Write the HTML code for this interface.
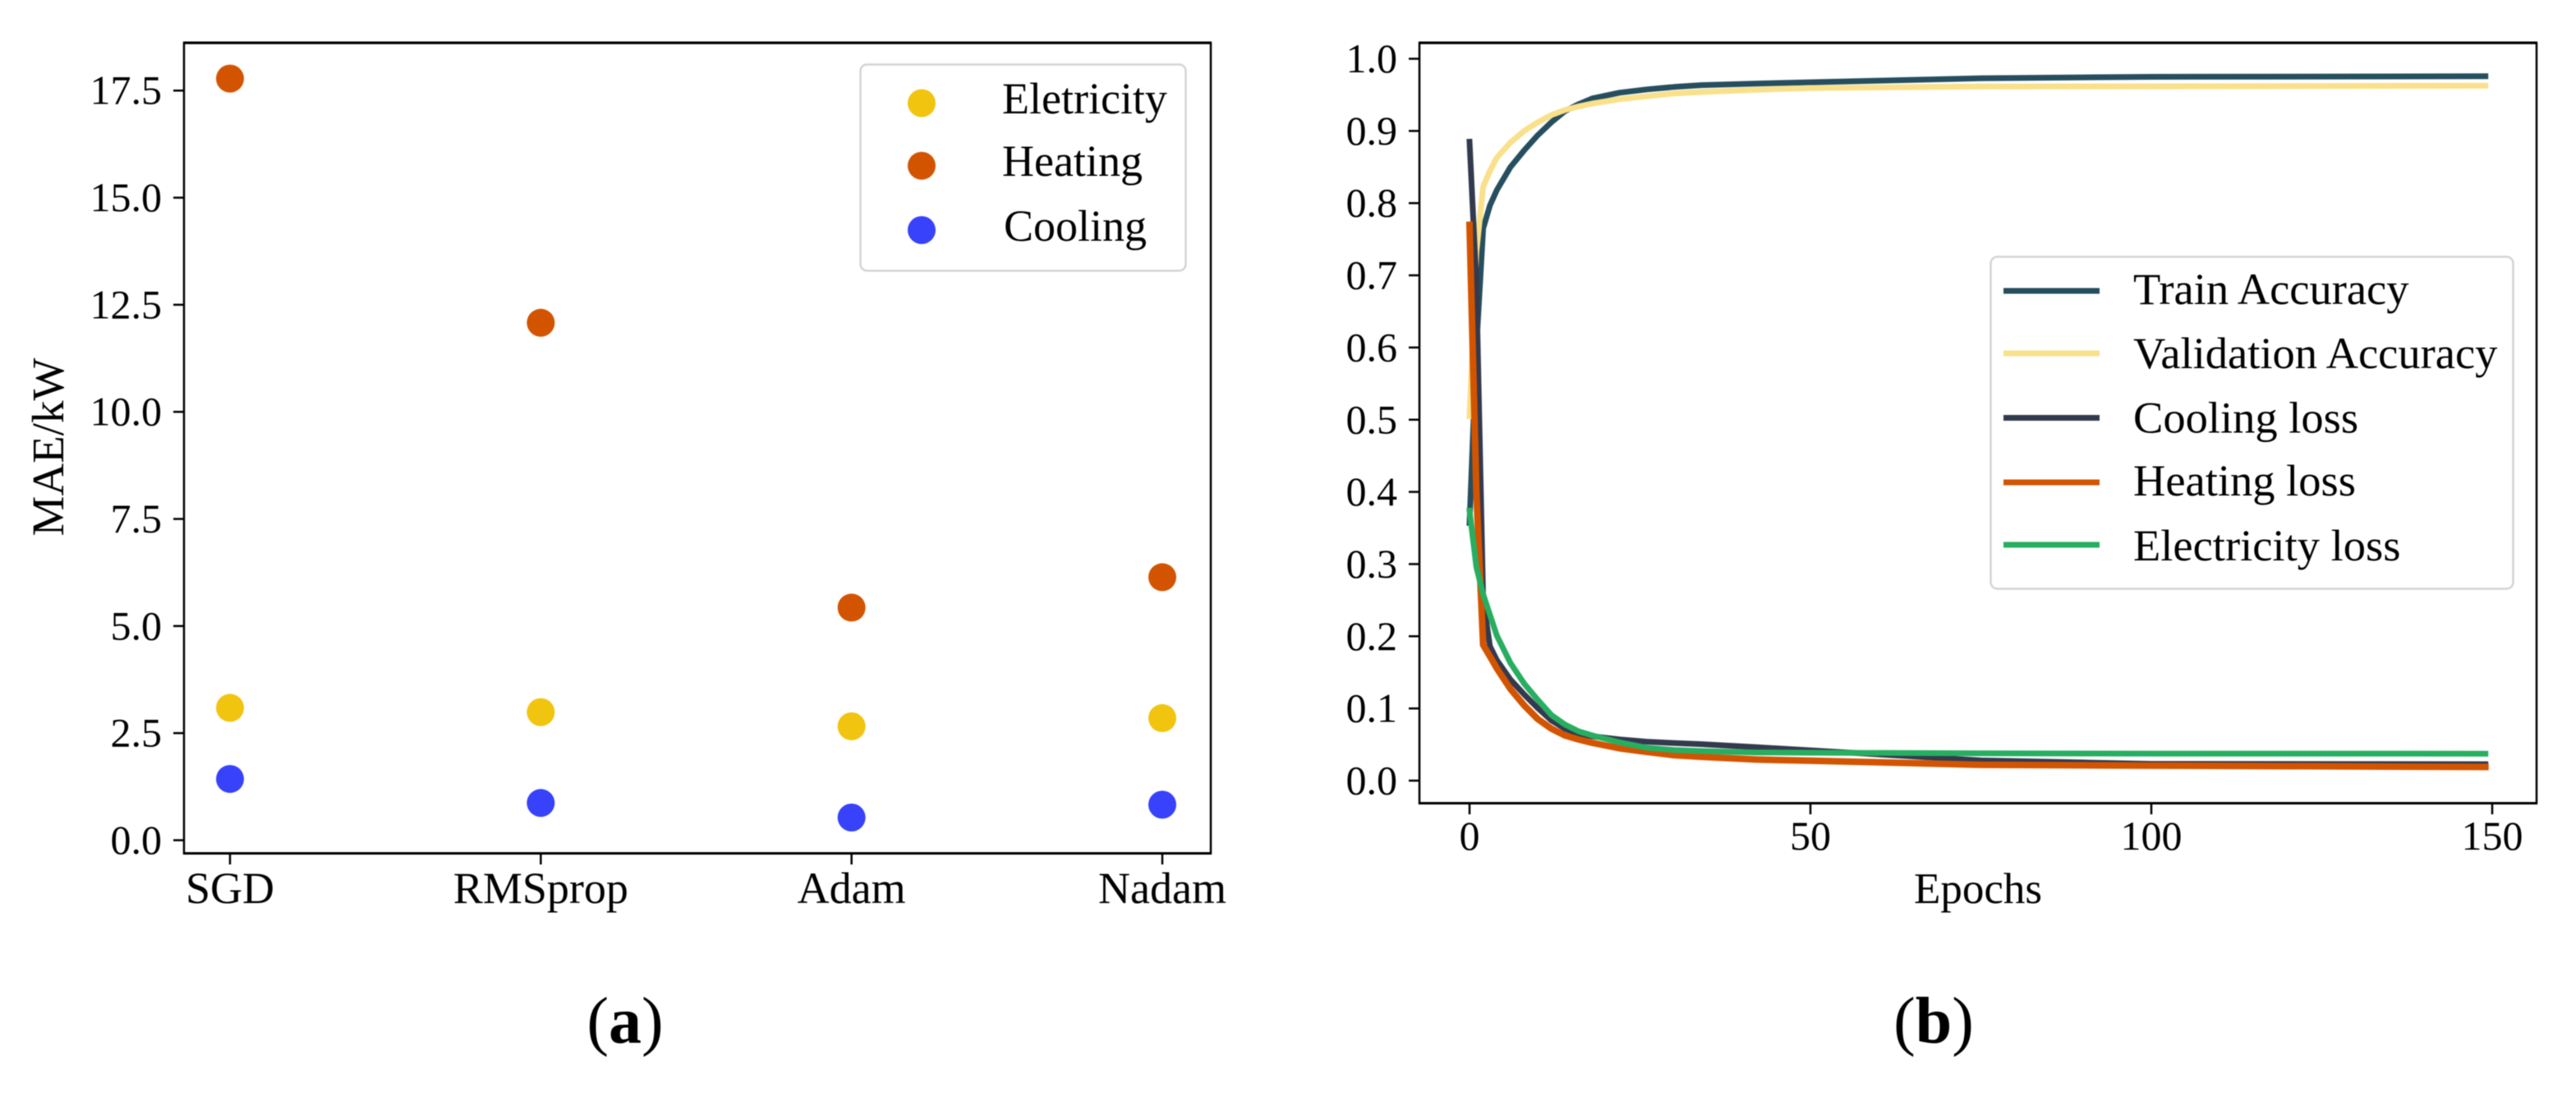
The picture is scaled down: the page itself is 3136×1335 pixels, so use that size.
<!DOCTYPE html>
<html lang="en">
<head>
<meta charset="utf-8">
<title>MAE by optimizer and training curves</title>
<style>
html,body{margin:0;padding:0;background:#fff;width:3136px;height:1335px;overflow:hidden}
svg{display:block;filter:blur(.6px)}
text{font-family:"Liberation Serif",serif;fill:#000}
.tick{font-size:50px}
.xcat{font-size:54px}
.lega{font-size:54px}
.legb{font-size:54.5px}
.ax{font-size:53px}
.ay{font-size:55px}
.cap{font-size:80px}
</style>
</head>
<body>
<svg id="fig" xmlns="http://www.w3.org/2000/svg" width="3136" height="1335" viewBox="0 0 3136 1335">
  <rect width="3136" height="1335" fill="#fff"/>
  <g id="panelA">
    <g id="marksA"></g>
    <rect x="224" y="52.5" width="1250" height="986" fill="none" stroke="#000" stroke-width="2.5"/>
    <line x1="223" x2="1475" y1="52" y2="52" stroke="#000" stroke-width="3"/>
    <line x1="223" x2="1475" y1="1038.5" y2="1038.5" stroke="#000" stroke-width="3"/>
    <g id="ticksA"></g>
    <text class="ay" transform="translate(77,544) rotate(-90)" text-anchor="middle">MAE/kW</text>
    <g>
      <rect x="1047.5" y="78.5" width="396" height="251" rx="8" fill="#fff" fill-opacity=".9" stroke="#d4d4d4" stroke-width="2.5"/>
      <circle cx="1122" cy="125.5" r="17" fill="#f1c40f"/>
      <circle cx="1122" cy="201.7" r="17" fill="#d35400"/>
      <circle cx="1122" cy="280" r="17" fill="#3742fa"/>
      <text class="lega" x="1220" y="138">Eletricity</text>
      <text class="lega" x="1220" y="214">Heating</text>
      <text class="lega" x="1222" y="293">Cooling</text>
    </g>
    <text class="cap" x="761" y="1269" text-anchor="middle">(<tspan font-weight="bold">a</tspan>)</text>
  </g>
  <g id="panelB">
    <g id="marksB"></g>
    <rect x="1728" y="52.5" width="1360" height="925" fill="none" stroke="#000" stroke-width="2.5"/>
    <line x1="1727" x2="3089" y1="52" y2="52" stroke="#000" stroke-width="3"/>
    <line x1="1727" x2="3089" y1="977.5" y2="977.5" stroke="#000" stroke-width="3"/>
    <g id="ticksB"></g>
    <text class="ax" x="2408" y="1099" text-anchor="middle">Epochs</text>
    <g>
      <rect x="2423.5" y="312.5" width="636" height="404" rx="8" fill="#fff" fill-opacity=".9" stroke="#d4d4d4" stroke-width="2.5"/>
      <line x1="2439" x2="2556" y1="354" y2="354" stroke="#264e5e" stroke-width="7"/>
      <line x1="2439" x2="2556" y1="430" y2="430" stroke="#f9e08a" stroke-width="7"/>
      <line x1="2439" x2="2556" y1="508.5" y2="508.5" stroke="#343a4e" stroke-width="7"/>
      <line x1="2439" x2="2556" y1="587" y2="587" stroke="#d35400" stroke-width="7"/>
      <line x1="2439" x2="2556" y1="663" y2="663" stroke="#27ae60" stroke-width="7"/>
      <text class="legb" x="2597" y="370">Train Accuracy</text>
      <text class="legb" x="2597" y="448">Validation Accuracy</text>
      <text class="legb" x="2597" y="526.5">Cooling loss</text>
      <text class="legb" x="2597" y="603">Heating loss</text>
      <text class="legb" x="2597" y="682">Electricity loss</text>
    </g>
    <text class="cap" x="2354" y="1269" text-anchor="middle">(<tspan font-weight="bold">b</tspan>)</text>
  </g>
</svg>
<script>
// Panel (a) data
const optimizers = ["SGD", "RMSprop", "Adam", "Nadam"];
const electricityMae = [3.09, 2.99, 2.66, 2.85];
const heatingMae = [17.78, 12.08, 5.43, 6.14];
const coolingMae = [1.43, 0.87, 0.53, 0.83];
const maeTicks = [0, 2.5, 5, 7.5, 10, 12.5, 15, 17.5];

// Panel (b) data
const epochs = [0, 1, 2, 3, 4, 6, 8, 10, 12, 14, 16, 18, 22, 26, 30, 34, 42, 50, 75, 100, 149];
const trainAccuracy = [0.357, 0.60, 0.765, 0.797, 0.818, 0.85, 0.873, 0.894, 0.912, 0.9275, 0.937, 0.945, 0.953, 0.9575, 0.961, 0.9635, 0.9655, 0.9675, 0.973, 0.975, 0.9757];
const validationAccuracy = [0.505, 0.732, 0.823, 0.845, 0.863, 0.884, 0.900, 0.912, 0.922, 0.929, 0.934, 0.938, 0.944, 0.948, 0.952, 0.954, 0.957, 0.9595, 0.9615, 0.9618, 0.9627];
const coolingLoss = [0.885, 0.69, 0.25, 0.186, 0.167, 0.140, 0.1195, 0.1005, 0.0835, 0.072, 0.0645, 0.0615, 0.057, 0.054, 0.052, 0.0505, 0.0463, 0.042, 0.028, 0.0232, 0.0228];
const heatingLoss = [0.770, 0.40, 0.188, 0.172, 0.1556, 0.127, 0.1044, 0.0854, 0.072, 0.0626, 0.057, 0.0524, 0.0448, 0.0398, 0.0353, 0.033, 0.0292, 0.0277, 0.0219, 0.0208, 0.0189];
const electricityLoss = [0.374, 0.296, 0.258, 0.2296, 0.201, 0.163, 0.1347, 0.112, 0.091, 0.0778, 0.0683, 0.0626, 0.0531, 0.0455, 0.0425, 0.041, 0.039, 0.0387, 0.0378, 0.0375, 0.0373];
const accuracyTicks = [0, 0.1, 0.2, 0.3, 0.4, 0.5, 0.6, 0.7, 0.8, 0.9, 1.0];
const epochTicks = [0, 50, 100, 150];

// Axis functions
function xCat(i) { return 280 + i * 378.33; }
function yMae(v) { return 1022.5 - 52.13 * v; }
function xEpoch(e) { return 1789 + 8.3 * e; }
function yAcc(v) { return 950 - 878.5 * v; }

const NS = "http://www.w3.org/2000/svg";
function make(tag, attrs, parent, txt) {
  const el = document.createElementNS(NS, tag);
  for (const k in attrs) el.setAttribute(k, attrs[k]);
  if (txt !== undefined) el.textContent = txt;
  parent.appendChild(el);
  return el;
}

const marksA = document.getElementById("marksA");
const ticksA = document.getElementById("ticksA");
const marksB = document.getElementById("marksB");
const ticksB = document.getElementById("ticksB");

// Panel (a) points
optimizers.forEach(function (name, i) {
  const e = make("circle", { cx: xCat(i), cy: yMae(electricityMae[i]), r: 17, fill: "#f1c40f" }, marksA);
  
  
  const h = make("circle", { cx: xCat(i), cy: yMae(heatingMae[i]), r: 17, fill: "#d35400" }, marksA);
  
  
  const c = make("circle", { cx: xCat(i), cy: yMae(coolingMae[i]), r: 17, fill: "#3742fa" }, marksA);
  
  

  const tk = make("line", { x1: xCat(i), x2: xCat(i), y1: 1039, y2: 1052, stroke: "#000", "stroke-width": 2.5 }, ticksA);
  
  
  const lb = make("text", { class: "xcat", x: xCat(i), y: 1099, "text-anchor": "middle" }, ticksA, name);
  
  
});

maeTicks.forEach(function (v) {
  const tk = make("line", { x1: 211, x2: 224, y1: yMae(v), y2: yMae(v), stroke: "#000", "stroke-width": 2.5 }, ticksA);
  
  
  const lb = make("text", { class: "tick", x: 197, y: yMae(v) + 16.5, "text-anchor": "end" }, ticksA, v.toFixed(1));
  
  
});

// Panel (b) lines
function linePoints(values) {
  return values.map(function (v, i) { return xEpoch(epochs[i]).toFixed(1) + "," + yAcc(v).toFixed(1); }).join(" ");
}
function drawLine(values, color, width) {
  return make("polyline", { points: linePoints(values), fill: "none", stroke: color, "stroke-width": width, "stroke-linecap": "square", "stroke-linejoin": "round" }, marksB);
}
const lineTrain = drawLine(trainAccuracy, "#264e5e", 7);


const lineVal = drawLine(validationAccuracy, "#f9e08a", 7);


const lineCool = drawLine(coolingLoss, "#343a4e", 7);


const lineHeat = drawLine(heatingLoss, "#d35400", 8);


const lineElec = drawLine(electricityLoss, "#27ae60", 7);



accuracyTicks.forEach(function (v) {
  const tk = make("line", { x1: 1715, x2: 1728, y1: yAcc(v), y2: yAcc(v), stroke: "#000", "stroke-width": 2.5 }, ticksB);
  
  
  const lb = make("text", { class: "tick", x: 1701, y: yAcc(v) + 16.5, "text-anchor": "end" }, ticksB, v.toFixed(1));
  
  
});
epochTicks.forEach(function (e) {
  const tk = make("line", { x1: xEpoch(e), x2: xEpoch(e), y1: 978, y2: 991, stroke: "#000", "stroke-width": 2.5 }, ticksB);
  
  
  const lb = make("text", { class: "tick", x: xEpoch(e), y: 1034, "text-anchor": "middle" }, ticksB, String(e));
  
  
});
</script>
</body>
</html>
